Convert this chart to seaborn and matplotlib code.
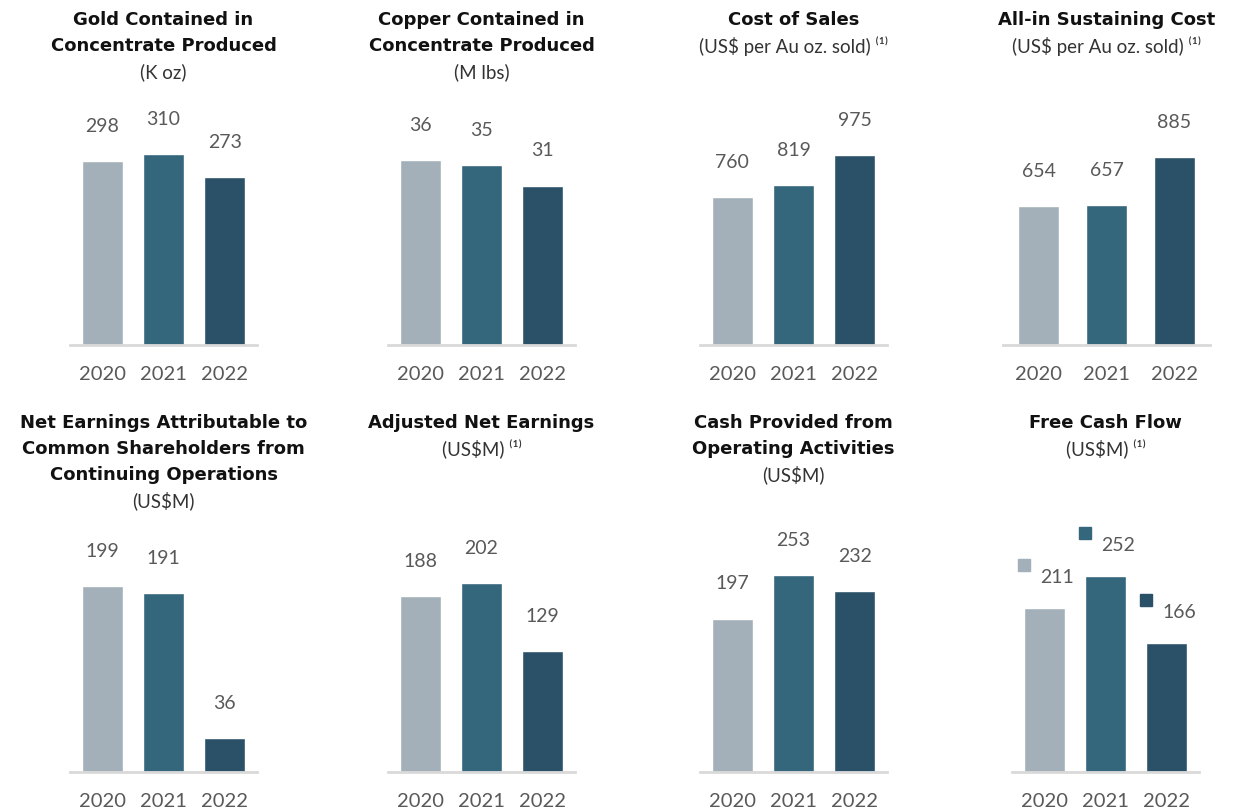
import matplotlib
matplotlib.use("Agg")
import matplotlib.pyplot as plt
import matplotlib.transforms as mtransforms
import seaborn as sns
import pandas as pd

years = ["2020", "2021", "2022"]
colors = ["#a3b0b9", "#34667c", "#2b5168"]

gold_koz = [298, 310, 273]
copper_mlbs = [36, 35, 31]
cost_of_sales = [760, 819, 975]
aisc = [654, 657, 885]
net_earnings = [199, 191, 36]
adj_net_earnings = [188, 202, 129]
cash_ops = [197, 253, 232]
free_cash_flow = [211, 252, 166]

titles = [
    ("Gold Contained in\nConcentrate Produced", "(K oz)"),
    ("Copper Contained in\nConcentrate Produced", "(M lbs)"),
    ("Cost of Sales", "(US$ per Au oz. sold) ⁽¹⁾"),
    ("All-in Sustaining Cost", "(US$ per Au oz. sold) ⁽¹⁾"),
    ("Net Earnings Attributable to\nCommon Shareholders from\nContinuing Operations", "(US$M)"),
    ("Adjusted Net Earnings", "(US$M) ⁽¹⁾"),
    ("Cash Provided from\nOperating Activities", "(US$M)"),
    ("Free Cash Flow", "(US$M) ⁽¹⁾"),
]
series = [gold_koz, copper_mlbs, cost_of_sales, aisc,
          net_earnings, adj_net_earnings, cash_ops, free_cash_flow]

sns.set_style("white")
plt.rcParams["font.family"] = ["Lato", "DejaVu Sans"]

W, H = 1244, 811
fig = plt.figure(figsize=(W / 100, H / 100), dpi=100)

# layout in pixels: axes left, axes width, bar width, tallest bar height
panels = [(70, 187, 0.67, 191), (388, 187, 0.67, 185), (700, 187, 0.67, 190), (1003, 207, 0.61, 188),
          (70, 187, 0.67, 186), (388, 187, 0.67, 189), (700, 187, 0.67, 197), (1012, 187, 0.67, 196)]
rows = [(345, 20), (772, 423)]
ax_h = 245
line_h = 26

for k, (vals, (title, sub)) in enumerate(zip(series, titles)):
    r = k // 4
    left, width, bw, hmax = panels[k]
    base, title_top = rows[r]
    ax = fig.add_axes([left / W, 1 - base / H, width / W, ax_h / H])
    df = pd.DataFrame({"year": years, "value": vals})
    sns.barplot(data=df, x="year", y="value", hue="year", palette=colors,
                saturation=1, width=bw, legend=False, ax=ax)
    ax.set_ylim(0, max(vals) * ax_h / hmax)
    ax.set_xlim(-0.53, 2.53)
    ax.set_xlabel("")
    ax.set_ylabel("")
    ax.set_yticks([])
    for s in ["top", "left", "right"]:
        ax.spines[s].set_visible(False)
    ax.spines["bottom"].set_color("#d9d9d9")
    ax.spines["bottom"].set_linewidth(2)
    ax.tick_params(axis="x", length=0, pad=15, labelsize=14.5, labelcolor="#595959")

    fcf = k == 7
    for i, v in enumerate(vals):
        ax.annotate(str(v), xy=(i, v), xytext=(9 if fcf else 0, 22 if fcf else 25),
                    textcoords="offset points", ha="center", va="center",
                    fontsize=14, color="#595959")
        if fcf:
            tr = mtransforms.offset_copy(ax.transData, fig=fig, x=-15, y=31, units="points")
            ax.plot([i], [v], marker="s", markersize=8, color=colors[i],
                    transform=tr, clip_on=False, linestyle="none")

    cx = (left + width / 2) / W
    lines = title.split("\n")
    for j, ln in enumerate(lines):
        fig.text(cx, 1 - (title_top + line_h * j) / H, ln, ha="center", va="center",
                 fontsize=13, fontweight="bold", color="#111111",
                 family=["DejaVu Sans"])
    fig.text(cx, 1 - (title_top + line_h * len(lines)) / H, sub, ha="center",
             va="center", fontsize=13.5, color="#333333", family=["Lato", "DejaVu Sans"])

fig.savefig("out.png", dpi=100)
